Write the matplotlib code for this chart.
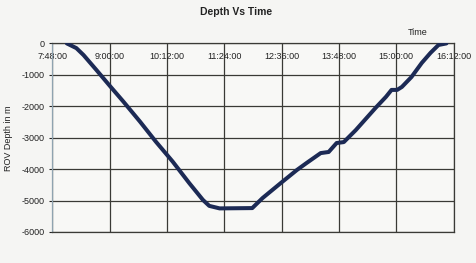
import matplotlib
matplotlib.use("Agg")
from matplotlib import pyplot as plt

# ROV dive log
times = ["8:06", "8:18", "8:27", "8:43", "9:00", "9:17", "9:38", "9:58",
         "10:19", "10:40", "10:57", "11:05", "11:18", "11:59", "12:12",
         "12:35", "12:55", "13:07", "13:25", "13:35", "13:45", "13:54",
         "14:09", "14:34", "14:47", "14:54", "15:01", "15:07", "15:19",
         "15:32", "15:43", "15:53", "16:03"]
depths = [0, -150, -370, -840, -1350, -1850, -2490, -3130,
          -3760, -4450, -4980, -5170, -5250, -5240, -4920,
          -4440, -4030, -3810, -3490, -3455, -3170, -3140,
          -2760, -2050, -1700, -1480, -1480, -1385, -1070,
          -620, -300, -50, 0]

tick_labels = ["7:48:00", "9:00:00", "10:12:00", "11:24:00",
               "12:36:00", "13:48:00", "15:00:00", "16:12:00"]
y_ticks = [0, -1000, -2000, -3000, -4000, -5000, -6000]


def to_min(s):
    parts = s.split(":")
    return int(parts[0]) * 60 + int(parts[1])


x = [to_min(t) for t in times]
x_ticks = [to_min(t) for t in tick_labels]

plt.rcParams['font.family'] = ['Liberation Sans', 'DejaVu Sans']

fig = plt.figure(figsize=(4.77, 2.63), dpi=100)
fig.patch.set_facecolor("#f5f5f3")
ax = fig.add_axes([0.110, 0.118, 0.841, 0.717])
ax.set_facecolor("#f8f8f6")

ax.plot(x, depths, color="#1c2a55", linewidth=2.9, solid_capstyle="round",
        solid_joinstyle="round", zorder=3)

ax.set_xlim(x_ticks[0], x_ticks[-1])
ax.set_ylim(-6000, 0)
ax.set_xticks(x_ticks)
ax.set_xticklabels(tick_labels)
ax.set_yticks(y_ticks)
ax.set_yticklabels([str(v) for v in y_ticks])

ax.xaxis.set_ticks_position("top")
ax.tick_params(axis="x", length=0, pad=-13, labelsize=6.5, colors="#222222",
               labeltop=True, labelbottom=False)
ax.tick_params(axis="y", length=2.5, width=0.8, pad=3, labelsize=6.5,
               colors="#222222", direction="out")

ax.grid(True, color="#3a3a36", linewidth=0.9)
for side in ["top", "right", "bottom"]:
    ax.spines[side].set_color("#3a3a36")
    ax.spines[side].set_linewidth(0.9)
ax.spines["left"].set_color("#8fa3b0")
ax.spines["left"].set_linewidth(0.9)

fig.text(0.495, 0.955, "Depth Vs Time", ha="center", va="center",
         fontsize=7.5, fontweight="bold", color="#222222")
fig.text(0.876, 0.875, "Time", ha="center", va="center", fontsize=6.5,
         color="#222222")
fig.text(0.018, 0.475, "ROV Depth in m", rotation=90, ha="center",
         va="center", fontsize=6.5, color="#222222")

fig.savefig("out.png", dpi=100, facecolor=fig.get_facecolor())
